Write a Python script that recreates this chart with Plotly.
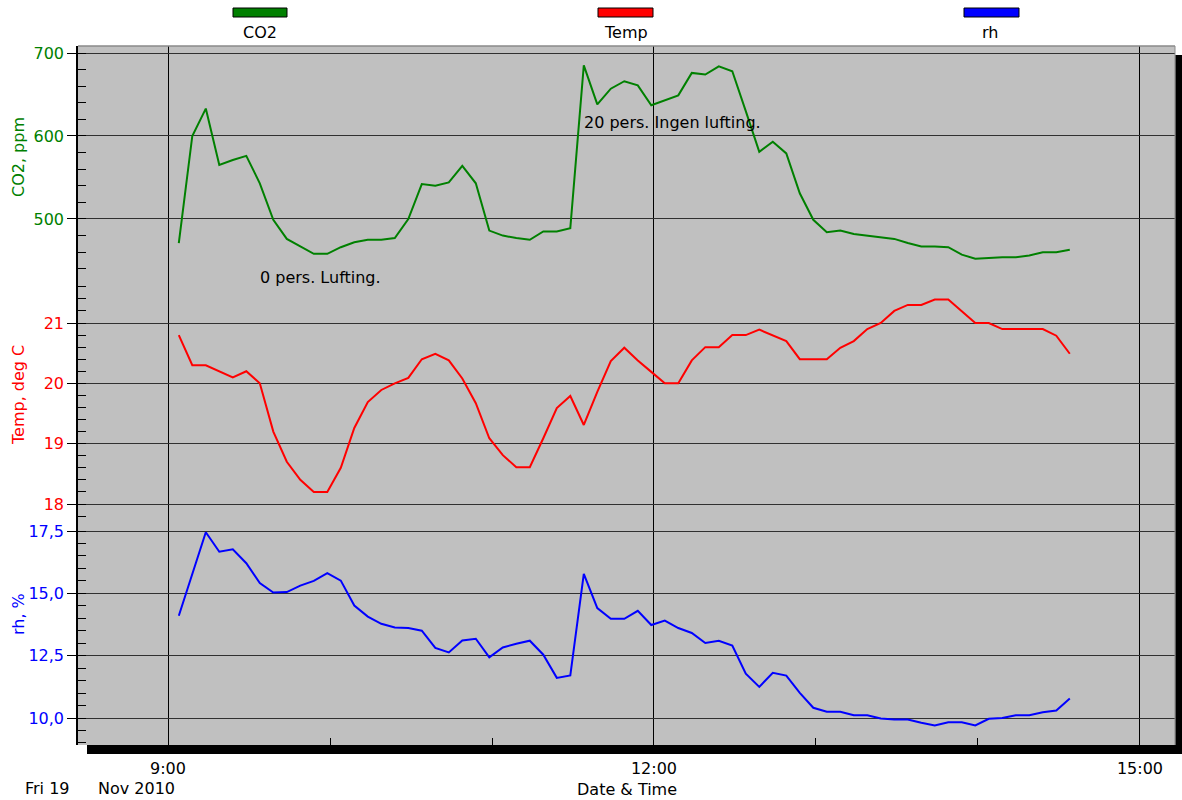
import pandas as pd
import plotly.graph_objects as go

# ---------------- data (5-minute readings, Fri 19 Nov 2010) ----------------
start_time = "2010-11-19 09:04"
n_points = 67
times = pd.date_range(start_time, periods=n_points, freq="5min")

co2_ppm = [471, 600, 633, 565, 571, 576, 543, 499, 476, 467,
           458, 458, 466, 472, 475, 475, 477, 500, 542, 540,
           544, 564, 543, 486, 480, 477, 475, 485, 485, 489,
           685, 638, 657, 666, 661, 637, 643, 649, 676, 674,
           684, 678, 630, 581, 593, 579, 531, 499, 484, 486,
           482, 480, 478, 476, 471, 467, 467, 466, 457, 452,
           453, 454, 454, 456, 460, 460, 463]

temp_c = [20.8, 20.3, 20.3, 20.2, 20.1, 20.2, 20.0, 19.2, 18.7, 18.4,
          18.2, 18.2, 18.6, 19.26, 19.69, 19.89, 20.0, 20.09, 20.4, 20.49,
          20.38, 20.08, 19.67, 19.09, 18.81, 18.61, 18.61, 19.09, 19.59, 19.79,
          19.31, 19.86, 20.37, 20.59, 20.38, 20.19, 20.0, 20.0, 20.38, 20.6,
          20.6, 20.8, 20.8, 20.89, 20.8, 20.7, 20.4, 20.4, 20.4, 20.59,
          20.7, 20.9, 21.0, 21.2, 21.3, 21.3, 21.39, 21.39, 21.2, 21.0,
          21.0, 20.9, 20.9, 20.9, 20.9, 20.79, 20.49]

rh_pct = [14.1, 15.81, 17.45, 16.67, 16.77, 16.21, 15.41, 15.03, 15.05, 15.31,
          15.5, 15.81, 15.51, 14.51, 14.07, 13.78, 13.63, 13.61, 13.5, 12.81,
          12.63, 13.11, 13.18, 12.43, 12.83, 12.98, 13.1, 12.54, 11.61, 11.71,
          15.78, 14.41, 13.98, 13.98, 14.3, 13.73, 13.91, 13.61, 13.41, 13.01,
          13.1, 12.91, 11.78, 11.25, 11.81, 11.7, 11.01, 10.41, 10.25, 10.25,
          10.11, 10.11, 9.98, 9.94, 9.94, 9.81, 9.7, 9.83, 9.83, 9.7,
          9.97, 10.0, 10.11, 10.11, 10.23, 10.3, 10.78]

series_names = ["CO2", "Temp", "rh"]
series_colors = ["#008000", "#FF0000", "#0000FF"]
axis_titles = ["CO2, ppm", "Temp, deg C", "rh, %"]
notes = ["0 pers. Lufting.", "20 pers. Ingen lufting."]
x_tick_format = "%-H:%M"
date_left = ["Fri 19", "Nov 2010"]
x_title = "Date & Time"

# ---------------- layout geometry (pixels) ----------------
W, H = 1182, 800
ML, MR, MT, MB = 78, 7, 46, 55
PW = W - ML - MR
PH = H - MT - MB
BOTTOM = H - MB


def px_x(px):
    return (px - ML) / PW


def px_y(py):
    return (BOTTOM - py) / PH


FONT = "DejaVu Sans, Verdana, sans-serif"
FS = 16
GRID = "#303030"

fig = go.Figure()
fig.add_trace(go.Scatter(x=times, y=co2_ppm, name=series_names[0], yaxis="y3",
                         mode="lines", line=dict(color=series_colors[0], width=2)))
fig.add_trace(go.Scatter(x=times, y=temp_c, name=series_names[1], yaxis="y2",
                         mode="lines", line=dict(color=series_colors[1], width=2)))
fig.add_trace(go.Scatter(x=times, y=rh_pct, name=series_names[2], yaxis="y",
                         mode="lines", line=dict(color=series_colors[2], width=2)))

d_low = px_y(522)
d_high = px_y(278)


def yaxis_style(color, rng, domain, dtick, tick0, minor_dtick, fmt=None):
    d = dict(
        domain=domain, range=rng, anchor="x",
        dtick=dtick, tick0=tick0,
        showgrid=True, gridcolor=GRID, gridwidth=1.2,
        zeroline=False,
        showline=True, linecolor="black", linewidth=1.5,
        ticks="outside", ticklen=9, tickcolor="black", tickwidth=1,
        tickfont=dict(family=FONT, size=FS, color=color),
        minor=dict(dtick=minor_dtick, ticks="inside", ticklen=8,
                   tickcolor="black", tickwidth=1, showgrid=False),
        fixedrange=True,
    )
    if fmt:
        d["tickformat"] = fmt
    return d


fig.update_layout(
    width=W, height=H,
    margin=dict(l=ML, r=MR, t=MT, b=MB, pad=0),
    paper_bgcolor="white",
    plot_bgcolor="#C0C0C0",
    showlegend=False,
    separators=",.",
    font=dict(family=FONT, size=FS, color="black"),
    xaxis=dict(
        type="date",
        range=["2010-11-19 08:26:40", "2010-11-19 15:12:58"],
        anchor="y",
        tick0="2010-11-19 09:00", dtick=3 * 3600 * 1000,
        tickformat=x_tick_format,
        showgrid=True, gridcolor="black", gridwidth=1,
        zeroline=False, showline=False,
        ticks="outside", ticklen=9, tickcolor="rgba(0,0,0,0)",
        tickfont=dict(family=FONT, size=FS, color="black"),
        minor=dict(dtick=3600 * 1000, ticks="inside", ticklen=7,
                   tickcolor="black", tickwidth=1, showgrid=False),
        fixedrange=True,
    ),
    yaxis=yaxis_style(series_colors[2], [8.917, 17.862], [0, d_low], 2.5, 10, 0.5, ".1f"),
    yaxis2=yaxis_style(series_colors[1], [17.7016, 21.746], [d_low, d_high], 1, 18, 0.2),
    yaxis3=yaxis_style(series_colors[0], [428.9, 708.43], [d_high, 1], 100, 500, 20),
)

shapes = []
# top / right thin border of the plot area
shapes.append(dict(type="line", xref="paper", yref="paper", x0=0, x1=1, y0=1, y1=1,
                   line=dict(color="#8A8A8A", width=1.5), layer="above"))
shapes.append(dict(type="line", xref="paper", yref="paper", x0=1, x1=1, y0=0, y1=1,
                   line=dict(color="#8A8A8A", width=1), layer="above"))
# drop shadow (bottom and right)
shapes.append(dict(type="rect", xref="paper", yref="paper",
                   x0=px_x(87), x1=px_x(1182), y0=px_y(754), y1=px_y(745),
                   fillcolor="black", line=dict(width=0), layer="above"))
shapes.append(dict(type="rect", xref="paper", yref="paper",
                   x0=px_x(1175.5), x1=px_x(1182), y0=px_y(754), y1=px_y(55),
                   fillcolor="black", line=dict(width=0), layer="above"))
# legend swatches
legend_boxes = [(233, 287), (598, 653), (964, 1019)]
legend_label_x = [260, 625.5, 990]
for (a, b), col in zip(legend_boxes, series_colors):
    shapes.append(dict(type="rect", xref="paper", yref="paper",
                       x0=px_x(a), x1=px_x(b), y0=px_y(17), y1=px_y(8),
                       fillcolor=col, line=dict(color="black", width=1), layer="above"))
fig.update_layout(shapes=shapes)

ann = []
for name, cx in zip(series_names, legend_label_x):
    ann.append(dict(text=name, xref="paper", yref="paper", x=px_x(cx), y=px_y(33),
                    xanchor="center", yanchor="middle", showarrow=False,
                    font=dict(family=FONT, size=FS, color="black")))
# rotated axis titles
for title, col, cy in zip(axis_titles, series_colors, [157, 395, 614]):
    ann.append(dict(text=title, xref="paper", yref="paper", x=px_x(18), y=px_y(cy),
                    xanchor="center", yanchor="middle", textangle=-90, showarrow=False,
                    font=dict(family=FONT, size=FS, color=col)))
# in-plot notes
ann.append(dict(text=notes[0], xref="paper", yref="paper", x=px_x(320), y=px_y(277),
                xanchor="center", yanchor="middle", showarrow=False,
                font=dict(family=FONT, size=FS, color="black")))
ann.append(dict(text=notes[1], xref="paper", yref="paper", x=px_x(582), y=px_y(122),
                xanchor="left", yanchor="middle", showarrow=False,
                font=dict(family=FONT, size=FS, color="black")))
# bottom date / axis title
ann.append(dict(text=date_left[0], xref="paper", yref="paper", x=px_x(47.5), y=px_y(788),
                xanchor="center", yanchor="middle", showarrow=False,
                font=dict(family=FONT, size=FS, color="black")))
ann.append(dict(text=date_left[1], xref="paper", yref="paper", x=px_x(136), y=px_y(788),
                xanchor="center", yanchor="middle", showarrow=False,
                font=dict(family=FONT, size=FS, color="black")))
ann.append(dict(text=x_title, xref="paper", yref="paper", x=px_x(627), y=px_y(789),
                xanchor="center", yanchor="middle", showarrow=False,
                font=dict(family=FONT, size=FS, color="black")))
fig.update_layout(annotations=ann)

fig.write_html("out.html", config={"displayModeBar": False},
               post_script="document.body.style.margin='0';document.body.style.overflow='hidden';")
